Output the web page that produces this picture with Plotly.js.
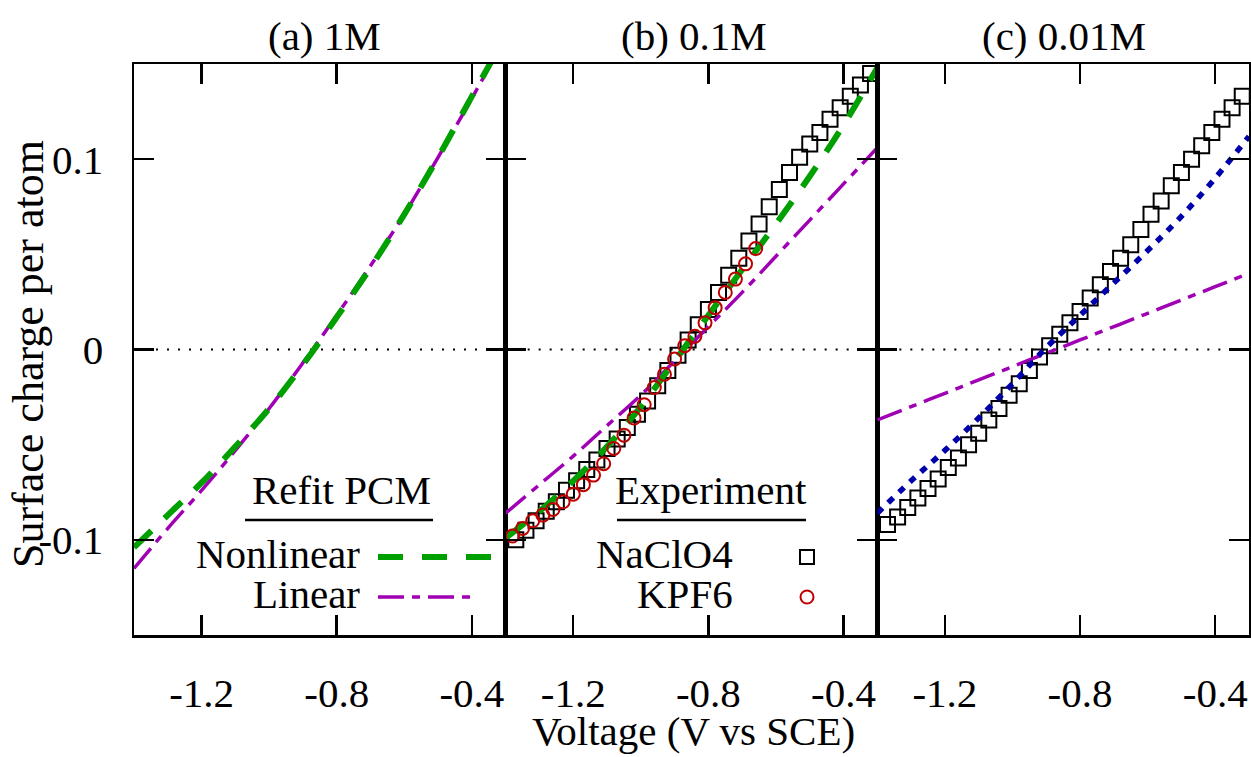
<!DOCTYPE html>
<html>
<head>
<meta charset="utf-8">
<script src="https://cdn.plot.ly/plotly-3.0.1.min.js"></script>
<style>
html,body{margin:0;padding:0;background:#fff;}
#chart{width:1251px;height:757px;}
</style>
</head>
<body>
<div id="chart"></div>
<script>
// ---------- data ----------
const voltGrid = [-1.4,-1.3,-1.2,-1.1,-1.0,-0.9,-0.8,-0.7,-0.6,-0.5,-0.4,-0.3];

// (a) 1M
const a_nonlinear = [-0.104,-0.087,-0.070,-0.051,-0.031,-0.008,0.017,0.043,0.071,0.101,0.133,0.165];
const a_linear    = [-0.115,-0.094,-0.074,-0.053,-0.031,-0.007,0.018,0.044,0.071,0.101,0.132,0.164];

// (b) 0.1M
const b_nonlinear = [-0.099,-0.085,-0.069,-0.051,-0.030,-0.006,0.018,0.042,0.066,0.091,0.118,0.148];
const b_linear    = [-0.086,-0.071,-0.056,-0.040,-0.024,-0.006,0.012,0.030,0.049,0.068,0.087,0.106];

const b_nacl_v = [-1.37,-1.34,-1.31,-1.28,-1.25,-1.22,-1.19,-1.16,-1.13,-1.10,-1.07,-1.04,-1.01,-0.98,-0.95,-0.92,-0.89,-0.86,-0.83,-0.80,-0.77,-0.74,-0.71,-0.68,-0.65,-0.62,-0.59,-0.56,-0.53,-0.50,-0.47,-0.44,-0.41,-0.38,-0.35,-0.32];
const b_nacl_q = [-0.100,-0.095,-0.090,-0.085,-0.080,-0.074,-0.069,-0.063,-0.058,-0.052,-0.047,-0.041,-0.034,-0.027,-0.019,-0.011,-0.003,0.005,0.013,0.021,0.030,0.039,0.048,0.057,0.066,0.075,0.084,0.093,0.101,0.108,0.114,0.121,0.127,0.133,0.139,0.145];

const b_kpf6_v = [-1.38,-1.35,-1.32,-1.29,-1.26,-1.23,-1.20,-1.17,-1.14,-1.11,-1.08,-1.05,-1.02,-0.99,-0.96,-0.93,-0.90,-0.87,-0.84,-0.81,-0.78,-0.75,-0.72,-0.69,-0.66];
const b_kpf6_q = [-0.098,-0.094,-0.090,-0.087,-0.084,-0.080,-0.076,-0.071,-0.066,-0.060,-0.052,-0.045,-0.036,-0.029,-0.020,-0.013,-0.005,0.002,0.007,0.014,0.022,0.030,0.037,0.045,0.053];

// (c) 0.01M
const c_nonlinear = [-0.086,-0.069,-0.053,-0.036,-0.018,0.001,0.018,0.035,0.052,0.070,0.090,0.112];
const c_linear    = [-0.037,-0.030,-0.023,-0.016,-0.009,-0.002,0.005,0.012,0.019,0.026,0.033,0.040];

const c_nacl_v = [-1.37,-1.34,-1.31,-1.28,-1.25,-1.22,-1.19,-1.16,-1.13,-1.10,-1.07,-1.04,-1.01,-0.98,-0.95,-0.92,-0.89,-0.86,-0.83,-0.80,-0.77,-0.74,-0.71,-0.68,-0.65,-0.62,-0.59,-0.56,-0.53,-0.50,-0.47,-0.44,-0.41,-0.38,-0.35,-0.32];
const c_nacl_q = [-0.092,-0.088,-0.083,-0.078,-0.073,-0.068,-0.062,-0.057,-0.050,-0.044,-0.037,-0.031,-0.024,-0.018,-0.011,-0.004,0.002,0.008,0.014,0.020,0.027,0.034,0.041,0.048,0.055,0.063,0.071,0.078,0.086,0.093,0.100,0.107,0.114,0.121,0.127,0.133];

const xTickVals = [-1.2,-0.8,-0.4];
const xTickText = ['-1.2','-0.8','-0.4'];
const yTickVals = [-0.1,0,0.1];
const yTickText = ['-0.1','0','0.1'];
const panelTitles = ['(a) 1M','(b) 0.1M','(c) 0.01M'];
const xTitle = 'Voltage (V vs SCE)';
const yTitle = 'Surface charge per atom';
const legendLeftTitle = 'Refit PCM';
const legendLeftNames = ['Nonlinear','Linear'];
const legendRightTitle = 'Experiment';
const legendRightNames = ['NaClO4','KPF6'];

// ---------- styles ----------
const SERIF = 'Liberation Serif';
const FS = 41;
const GREEN = 'rgb(0,160,0)';
const MAGENTA = 'rgb(160,0,180)';
const BLUE = 'rgb(0,0,170)';
const RED = 'rgb(190,0,0)';
const greenLine = {color: GREEN, width: 6, dash: '24px,18px', shape: 'spline'};
const magentaLine = {color: MAGENTA, width: 3.5, dash: '26px,8px,8px,8px', shape: 'spline'};
const blueLine = {color: BLUE, width: 5.5, dash: '7px,8px', shape: 'spline'};
const squareMarker = {symbol: 'square-open', size: 15, color: '#000', line: {width: 2, color: '#000'}};
const circleMarker = {symbol: 'circle-open', size: 13, color: RED, line: {width: 2, color: RED}};

const traces = [
  {x: b_nacl_v, y: b_nacl_q, xaxis: 'x2', yaxis: 'y2', mode: 'markers', marker: squareMarker},
  {x: c_nacl_v, y: c_nacl_q, xaxis: 'x3', yaxis: 'y3', mode: 'markers', marker: squareMarker},
  {x: voltGrid, y: a_linear, xaxis: 'x', yaxis: 'y', mode: 'lines', line: magentaLine},
  {x: voltGrid, y: a_nonlinear, xaxis: 'x', yaxis: 'y', mode: 'lines', line: greenLine},
  {x: voltGrid, y: b_linear, xaxis: 'x2', yaxis: 'y2', mode: 'lines', line: magentaLine},
  {x: voltGrid, y: b_nonlinear, xaxis: 'x2', yaxis: 'y2', mode: 'lines', line: greenLine},
  {x: b_kpf6_v, y: b_kpf6_q, xaxis: 'x2', yaxis: 'y2', mode: 'markers', marker: circleMarker},
  {x: voltGrid, y: c_linear, xaxis: 'x3', yaxis: 'y3', mode: 'lines', line: magentaLine},
  {x: voltGrid, y: c_nonlinear, xaxis: 'x3', yaxis: 'y3', mode: 'lines', line: blueLine}
];

function xAx(dom, anchor) {
  return {domain: dom, anchor: anchor, range: [-1.4, -0.3], tickvals: xTickVals, ticktext: xTickText,
    ticks: 'inside', ticklen: 20, tickwidth: 2.5, tickcolor: '#000', showline: true, linewidth: 2.5,
    linecolor: '#000', mirror: 'ticks', showgrid: false, zeroline: false, ticklabelstandoff: 20,
    tickfont: {family: SERIF, size: FS, color: '#000'}};
}
function yAx(anchor, labels) {
  return {domain: [0, 1], anchor: anchor, range: [-0.15, 0.15], tickvals: yTickVals, ticktext: yTickText,
    ticks: 'inside', ticklen: 20, tickwidth: 2.5, tickcolor: '#000', showline: true, linewidth: 2.5,
    linecolor: '#000', mirror: 'ticks', showgrid: false, zeroline: false, showticklabels: labels,
    ticklabelstandoff: 20, tickfont: {family: SERIF, size: FS, color: '#000'}};
}

const PW = 1115, PH = 571, L = 134, B = 635;
const px = v => (v - L) / PW;
const py = v => (B - v) / PH;

const annotations = [];
function ann(text, x, y, xanchor, extra, size) {
  annotations.push(Object.assign({text: text, xref: 'paper', yref: 'paper', x: px(x), y: py(y), xanchor: xanchor,
    yanchor: 'middle', showarrow: false, font: {family: SERIF, size: size || FS, color: '#000'}}, extra || {}));
}
ann(panelTitles[0], 324, 36, 'center');
ann(panelTitles[1], 694, 36, 'center');
ann(panelTitles[2], 1064, 36, 'center');
ann(xTitle, 693, 731, 'center');
ann(yTitle, 28, 354, 'center', {textangle: -90}, 44);
ann(legendLeftTitle, 341, 490, 'center');
ann(legendLeftNames[0], 362, 554, 'right');
ann(legendLeftNames[1], 362, 594, 'right');
ann(legendRightTitle, 711, 490, 'center');
ann(legendRightNames[0], 735, 554, 'right');
ann(legendRightNames[1], 735, 594, 'right');

const shapes = [];
['x', 'x2', 'x3'].forEach((xa, i) => {
  const ya = i === 0 ? 'y' : 'y' + (i + 1);
  shapes.push({type: 'line', xref: xa + ' domain', yref: ya, x0: 0, x1: 1, y0: 0, y1: 0,
    line: {color: '#000', width: 2, dash: '2px,9px'}, layer: 'below'});
});
// legend underlines
shapes.push({type: 'line', xref: 'paper', yref: 'paper', x0: px(245), x1: px(433), y0: py(520), y1: py(520), line: {color: '#000', width: 2.5}});
shapes.push({type: 'line', xref: 'paper', yref: 'paper', x0: px(617), x1: px(806), y0: py(520), y1: py(520), line: {color: '#000', width: 2.5}});
// legend samples
shapes.push({type: 'line', xref: 'paper', yref: 'paper', x0: px(378), x1: px(492), y0: py(557), y1: py(557), line: {color: GREEN, width: 6, dash: '25px,19px'}});
shapes.push({type: 'line', xref: 'paper', yref: 'paper', x0: px(378), x1: px(475), y0: py(597), y1: py(597), line: {color: MAGENTA, width: 3.5, dash: '26px,8px,8px,8px'}});
shapes.push({type: 'rect', xref: 'paper', yref: 'paper', x0: px(800), x1: px(814), y0: py(564), y1: py(550), line: {color: '#000', width: 2}});
shapes.push({type: 'circle', xref: 'paper', yref: 'paper', x0: px(800.5), x1: px(813.5), y0: py(603.5), y1: py(590.5), line: {color: RED, width: 2}});

const layout = {
  width: 1251, height: 757,
  margin: {l: L, r: 1251 - L - PW, t: 64, b: 757 - B, pad: 0},
  paper_bgcolor: '#fff', plot_bgcolor: '#fff',
  showlegend: false,
  font: {family: SERIF, size: FS, color: '#000'},
  xaxis: xAx([0, 1/3], 'y'),
  xaxis2: xAx([1/3, 2/3], 'y2'),
  xaxis3: xAx([2/3, 1], 'y3'),
  yaxis: yAx('x', true),
  yaxis2: yAx('x2', false),
  yaxis3: yAx('x3', false),
  annotations: annotations,
  shapes: shapes
};

Plotly.newPlot('chart', traces, layout, {staticPlot: true, displayModeBar: false});
</script>
</body>
</html>
